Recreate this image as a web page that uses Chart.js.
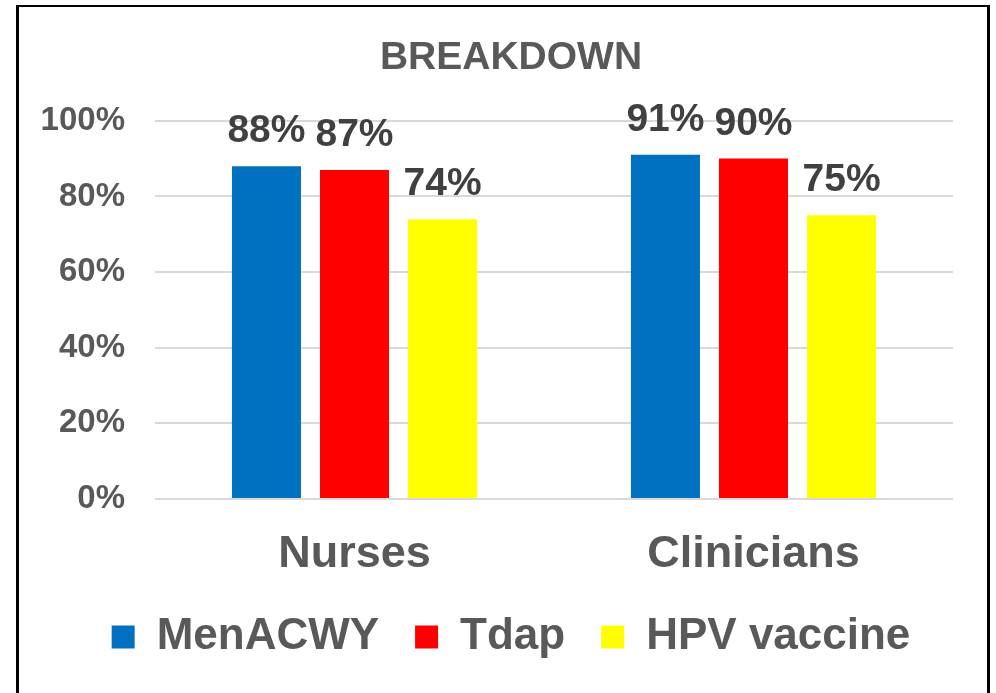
<!DOCTYPE html>
<html>
<head>
<meta charset="utf-8">
<script src="https://cdn.jsdelivr.net/npm/chart.js@4.4.0/dist/chart.umd.min.js"></script>
<style>
  html, body { margin: 0; padding: 0; background: #fff; overflow: hidden; }
  #wrap { position: relative; width: 996px; height: 693px; }
  #frame {
    position: absolute; left: 16px; top: 5px; width: 968px; height: 720px;
    border: 3px solid #000; border-top-width: 2px; pointer-events: none;
  }
</style>
</head>
<body>
<div id="wrap">
  <canvas id="chart" width="996" height="693"></canvas>
  <div id="frame"></div>
</div>
<script>
  // chart data
  const categories = ['Nurses', 'Clinicians'];
  const seriesNames = ['MenACWY', 'Tdap', 'HPV vaccine'];
  const menacwy = [88, 91];
  const tdap = [87, 90];
  const hpv = [74, 75];
  const seriesColors = ['#0070C0', '#FF0000', '#FFFF00'];

  const grey = '#595959';
  const fontFamily = 'Arial, "Liberation Sans", sans-serif';

  // draws the value above each bar
  const valueLabels = {
    id: 'valueLabels',
    afterDatasetsDraw(chart) {
      const ctx = chart.ctx;
      ctx.save();
      ctx.font = 'bold 39px ' + fontFamily;
      ctx.fillStyle = '#404040';
      ctx.textAlign = 'center';
      ctx.textBaseline = 'alphabetic';
      chart.data.datasets.forEach((ds, i) => {
        const meta = chart.getDatasetMeta(i);
        meta.data.forEach((bar, j) => {
          ctx.fillText(ds.data[j] + '%', bar.x, bar.y - 24);
        });
      });
      ctx.restore();
    }
  };

  const datasets = [menacwy, tdap, hpv].map((values, i) => ({
    label: seriesNames[i],
    data: values,
    backgroundColor: seriesColors[i],
    borderWidth: 0,
    categoryPercentage: 0.662,
    barPercentage: 0.784
  }));

  new Chart(document.getElementById('chart'), {
    type: 'bar',
    data: { labels: categories, datasets: datasets },
    options: {
      responsive: false,
      animation: false,
      layout: { padding: { left: 26, right: 0, top: 0, bottom: 24 } },
      scales: {
        x: {
          grid: { display: false, drawTicks: false },
          border: { display: false },
          ticks: {
            color: grey,
            padding: 29,
            font: { family: fontFamily, size: 45, weight: 'bold' }
          },
          afterFit(scale) { scale.height = 80; }
        },
        y: {
          min: 0,
          max: 100,
          grid: { color: '#d9d9d9', lineWidth: 2, drawTicks: false },
          border: { display: false },
          ticks: {
            stepSize: 20,
            color: grey,
            padding: 30,
            font: { family: fontFamily, size: 33, weight: 'bold' },
            callback: v => v + '%'
          },
          afterFit(scale) { scale.width = 129; }
        },
        // empty right axis, only keeps white space on the right
        yRight: {
          position: 'right',
          min: 0,
          max: 100,
          grid: { display: false, drawTicks: false },
          border: { display: false },
          ticks: { display: false },
          afterFit(scale) { scale.width = 43; }
        }
      },
      plugins: {
        title: {
          display: true,
          text: 'BREAKDOWN',
          color: grey,
          font: { family: fontFamily, size: 39, weight: 'bold' },
          padding: { top: 35, bottom: 39 }
        },
        legend: {
          position: 'bottom',
          labels: {
            color: grey,
            boxWidth: 23,
            boxHeight: 23,
            padding: 36,
            font: { family: fontFamily, size: 44, weight: 'bold' }
          }
        },
        tooltip: { enabled: false }
      }
    },
    plugins: [valueLabels]
  });
</script>
</body>
</html>
